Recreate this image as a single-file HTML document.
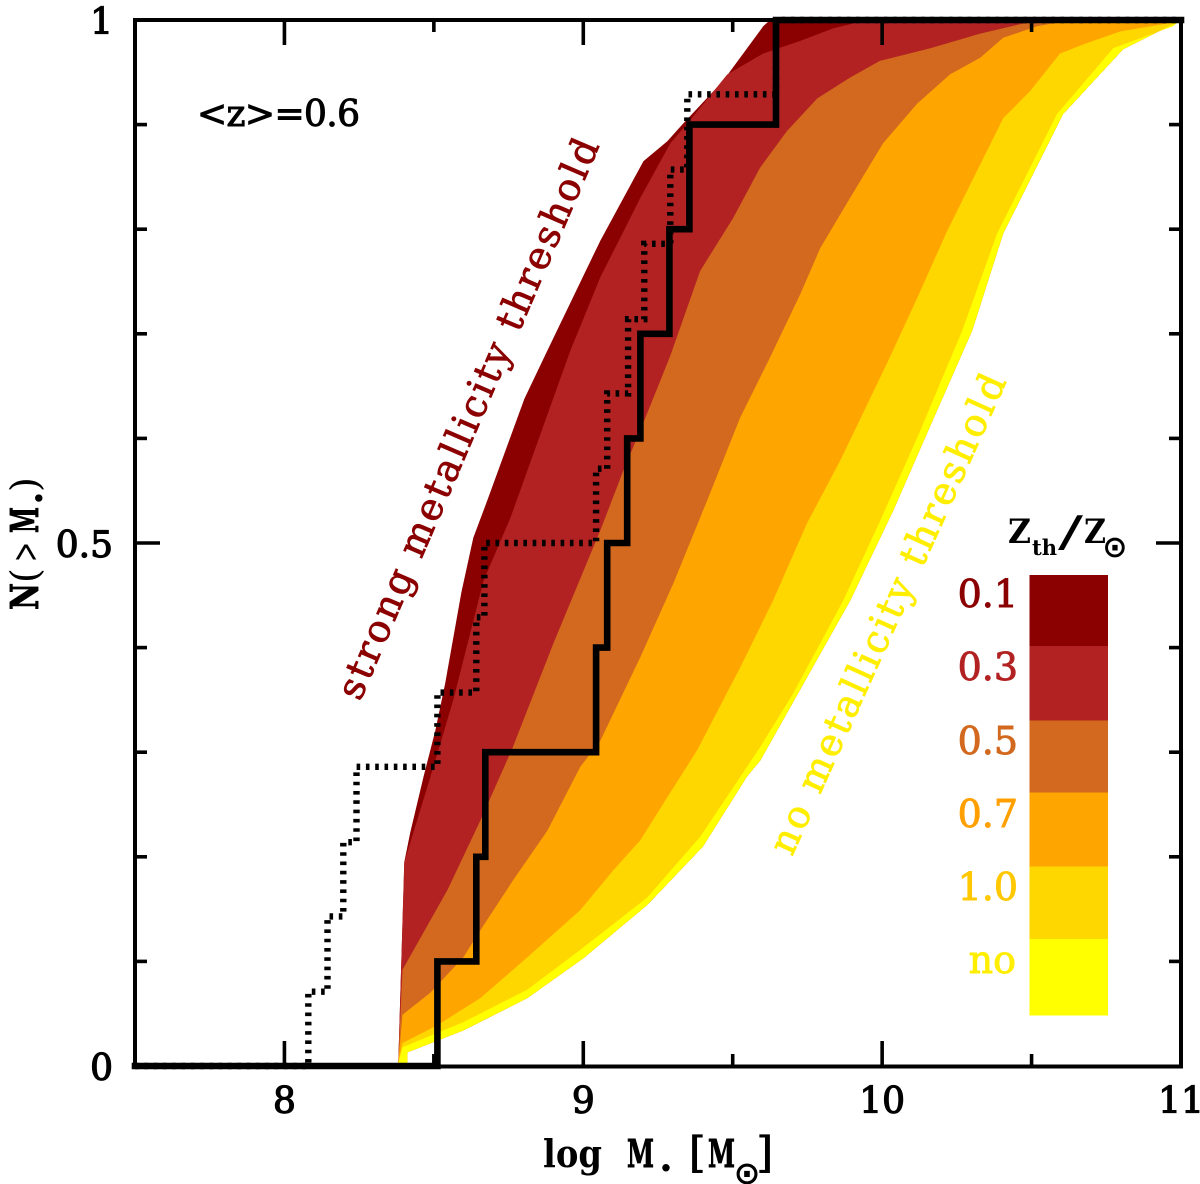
<!DOCTYPE html>
<html lang="en">
<head>
<meta charset="utf-8">
<title>Cumulative stellar mass distribution</title>
<style>
html,body{margin:0;padding:0;background:#fff;}
svg{display:block;}
text{font-family:"DejaVu Serif","Liberation Serif",serif;}
.lbl{font-size:36px;fill:#000;stroke:#000;stroke-width:1.2px;}
.ttl{font-size:38px;font-weight:bold;fill:#000;}
.leg{font-size:38px;stroke-width:0.9px;}
</style>
</head>
<body>
<svg id="chart" xmlns="http://www.w3.org/2000/svg" width="1200" height="1184" viewBox="0 0 1200 1184">
  <g id="bands"></g>
  <g id="axes"></g>
  <g id="steps"></g>
  <g id="ticklabels"></g>

  <g>
    <text class="ttl" x="543" y="1167" textLength="59" lengthAdjust="spacingAndGlyphs">log</text>
    <text class="ttl" x="627" y="1167" textLength="27" lengthAdjust="spacingAndGlyphs" stroke="#000" stroke-width="0.9">M</text>
    <text class="ttl" x="659" y="1171" style="font-size:40px">.</text>
    <text class="ttl" x="689" y="1167" style="font-size:42px;font-weight:normal;stroke:#000;stroke-width:1px">[</text>
    <text class="ttl" x="708" y="1167" textLength="27" lengthAdjust="spacingAndGlyphs" stroke="#000" stroke-width="0.9">M</text>
    <text x="747" y="1184" text-anchor="middle" style="font-family:'DejaVu Sans',sans-serif;font-size:32px;font-weight:bold;fill:#000">⊙</text>
    <text class="ttl" x="773" y="1167" text-anchor="end" style="font-size:42px;font-weight:normal;stroke:#000;stroke-width:1px">]</text>
  </g>

  <g transform="translate(38,610) rotate(-90)">
    <text class="ttl" x="0" y="0" textLength="27" lengthAdjust="spacingAndGlyphs" stroke="#000" stroke-width="0.9">N</text>
    <text class="ttl" x="27" y="0" style="font-weight:normal">(</text>
    <text class="ttl" x="48" y="0" textLength="20" lengthAdjust="spacingAndGlyphs" style="font-weight:normal">&gt;</text>
    <text class="ttl" x="77" y="0" textLength="26" lengthAdjust="spacingAndGlyphs" stroke="#000" stroke-width="0.9">M</text>
    <text class="ttl" x="105" y="4" style="font-size:40px">.</text>
    <text class="ttl" x="118" y="0" style="font-weight:normal">)</text>
  </g>

  <text class="lbl" x="197" y="126" textLength="163" style="stroke-width:1px">&lt;z&gt;=0.6</text>

  <text transform="translate(360,702) rotate(-66.7)" textLength="606" style="font-size:38px;fill:#8b0000;stroke:#8b0000;stroke-width:0.8px">strong metallicity threshold</text>
  <text transform="translate(792,857) rotate(-65.7)" textLength="522" style="font-size:38px;fill:#ffee00;stroke:#ffee00;stroke-width:0.8px">no metallicity threshold</text>

  <g>
    <g>
      <text class="ttl" x="1008" y="543" textLength="23" lengthAdjust="spacingAndGlyphs" style="font-size:34px">Z</text>
      <text class="ttl" x="1032" y="555" textLength="25" lengthAdjust="spacingAndGlyphs" style="font-size:21px">th</text>
      <text class="ttl" x="1058" y="546" textLength="25" lengthAdjust="spacingAndGlyphs" style="font-size:42px;font-weight:normal">/</text>
      <text class="ttl" x="1084" y="543" textLength="22" lengthAdjust="spacingAndGlyphs" style="font-size:34px">Z</text>
      <text x="1115" y="557" text-anchor="middle" style="font-family:'DejaVu Sans',sans-serif;font-size:30px;font-weight:bold;fill:#000">⊙</text>
    </g>
    <rect x="1029.5" y="575" width="78.5" height="72" fill="#8b0000"/>
    <rect x="1029.5" y="646" width="78.5" height="75" fill="#b22222"/>
    <rect x="1029.5" y="720.5" width="78.5" height="73" fill="#d2691e"/>
    <rect x="1029.5" y="792.5" width="78.5" height="75" fill="#ffa500"/>
    <rect x="1029.5" y="866.5" width="78.5" height="73" fill="#ffd700"/>
    <rect x="1029.5" y="939" width="78.5" height="76.5" fill="#ffff00"/>
    <text class="leg" x="1018" y="607" text-anchor="end" fill="#8b0000" stroke="#8b0000">0.1</text>
    <text class="leg" x="1018" y="680" text-anchor="end" fill="#b22222" stroke="#b22222">0.3</text>
    <text class="leg" x="1018" y="754" text-anchor="end" fill="#d2691e" stroke="#d2691e">0.5</text>
    <text class="leg" x="1018" y="827" text-anchor="end" fill="#ffa000" stroke="#ffa000">0.7</text>
    <text class="leg" x="1018" y="900" text-anchor="end" fill="#ffc800" stroke="#ffc800">1.0</text>
    <text class="leg" x="1016" y="973" text-anchor="end" fill="#ffee00" stroke="#ffee00">no</text>
  </g>
</svg>

<script>
// Metallicity-threshold curves: log stellar mass and cumulative fraction N(>M)
const z01LogM = [8.401,8.421,8.465,8.505,8.538,8.592,8.632,8.679,8.803,8.880,9.057,9.201,9.281,9.334,9.468,9.602,9.625];
const z01N    = [0.195,0.223,0.276,0.321,0.366,0.453,0.505,0.541,0.638,0.684,0.789,0.865,0.884,0.901,0.942,0.994,1.000];

const z03LogM = [8.401,8.488,8.565,8.666,8.756,8.957,9.057,9.191,9.291,9.348,9.482,9.602,9.726,9.836,9.950];
const z03N    = [0.195,0.276,0.350,0.464,0.524,0.684,0.754,0.830,0.882,0.901,0.948,0.968,0.980,0.992,1.000];

const z05LogM = [8.395,8.545,8.656,8.763,8.900,9.057,9.134,9.214,9.291,9.391,9.502,9.592,9.682,9.783,9.893,9.993,10.161,10.328,10.462,10.528];
const z05N    = [0.092,0.168,0.235,0.304,0.404,0.512,0.569,0.624,0.679,0.760,0.811,0.859,0.894,0.925,0.945,0.961,0.973,0.987,0.996,1.000];

const z07LogM = [8.395,8.488,8.599,8.656,8.766,8.880,8.990,9.057,9.191,9.301,9.415,9.525,9.619,9.726,9.793,9.893,10.003,10.117,10.227,10.328,10.405,10.518,10.595,10.886];
const z07N    = [0.049,0.070,0.104,0.130,0.178,0.225,0.286,0.311,0.391,0.461,0.541,0.620,0.674,0.738,0.782,0.830,0.882,0.920,0.948,0.964,0.983,0.994,0.998,1.000];

const z10LogM = [8.395,8.512,8.656,8.813,8.990,9.100,9.191,9.268,9.381,9.525,9.635,9.749,9.860,10.020,10.117,10.217,10.405,10.495,10.595,10.686,10.796,10.940,11.000];
const z10N    = [0.022,0.039,0.065,0.104,0.149,0.187,0.216,0.251,0.302,0.381,0.445,0.519,0.579,0.674,0.734,0.798,0.906,0.932,0.968,0.978,0.989,0.996,1.000];

const zNoLogM = [8.395,8.599,8.813,8.990,9.214,9.391,9.548,9.592,9.702,9.870,9.993,10.127,10.268,10.385,10.585,10.773,10.973,11.000];
const zNoN    = [0.018,0.042,0.073,0.111,0.161,0.219,0.286,0.305,0.356,0.445,0.521,0.607,0.703,0.796,0.910,0.973,0.994,1.000];

const edgeLogM = [8.381,8.411,8.411,8.599,8.813,9.000,9.214,9.401,9.548,9.592,9.893,10.037,10.161,10.301,10.405,10.605,10.806,11.000];
const edgeN    = [0.003,0.003,0.013,0.034,0.065,0.103,0.154,0.210,0.277,0.292,0.445,0.531,0.612,0.703,0.796,0.910,0.972,1.000];

// Observed step distributions
const solidEdges = [8.512,8.642,8.672,9.043,9.080,9.147,9.191,9.288,9.355,9.645];
const solidN     = [0.1,0.2,0.3,0.4,0.5,0.6,0.7,0.8,0.9,1.0];
const dottedEdges = [8.080,8.144,8.197,8.241,8.512,8.642,8.669,9.043,9.080,9.150,9.204,9.291,9.348,9.645];
const dottedN     = [0.071,0.143,0.214,0.286,0.357,0.429,0.500,0.571,0.643,0.714,0.786,0.857,0.929,1.0];

// Axis ticks
const xMajorTicks = [8,9,10,11];
const xMinorTicks = [8.5,9.5,10.5];
const xTickLabels = ["8","9","10","11"];
const yMajorTicks = [0,0.5,1];
const yMinorTicks = [0.1,0.2,0.3,0.4,0.6,0.7,0.8,0.9];
const yTickLabels = ["0","0.5","1"];

const SVG_NS = "http://www.w3.org/2000/svg";
const xMin = 7.5, xMax = 11, plotLeft = 135, plotRight = 1181, plotTop = 20, plotBottom = 1066;
function xScale(v){ return plotLeft + (v - xMin) * (plotRight - plotLeft) / (xMax - xMin); }
function yScale(v){ return plotBottom - v * (plotBottom - plotTop); }
function pointList(xs, ys){
  return xs.map(function(x, i){ return xScale(x).toFixed(1) + "," + yScale(ys[i]).toFixed(1); });
}

// Bands are painted outermost first, each running from its left curve to the outer edge.
const bandsGroup = document.getElementById("bands");
const bandList = [
  ["0.1", "#8b0000", z01LogM, z01N],
  ["0.3", "#b22222", z03LogM, z03N],
  ["0.5", "#d2691e", z05LogM, z05N],
  ["0.7", "#ffa500", z07LogM, z07N],
  ["1.0", "#ffd700", z10LogM, z10N],
  ["no",  "#ffff00", zNoLogM, zNoN]
];
const edgePoints = pointList(edgeLogM, edgeN).reverse();
bandList.forEach(function(b){
  const poly = document.createElementNS(SVG_NS, "polygon");
  poly.setAttribute("points", pointList(b[2], b[3]).concat(edgePoints).join(" "));
  poly.setAttribute("fill", b[1]);
  
  
  bandsGroup.appendChild(poly);
});

// Frame and ticks
const axesGroup = document.getElementById("axes");
const frame = document.createElementNS(SVG_NS, "rect");
frame.setAttribute("x", plotLeft);
frame.setAttribute("y", plotTop);
frame.setAttribute("width", plotRight - plotLeft);
frame.setAttribute("height", plotBottom - plotTop + 0.5);
frame.setAttribute("fill", "none");
frame.setAttribute("stroke", "#000");
frame.setAttribute("stroke-width", "4");


axesGroup.appendChild(frame);

function addTick(x1, y1, x2, y2, name){
  const t = document.createElementNS(SVG_NS, "line");
  t.setAttribute("x1", x1);
  t.setAttribute("y1", y1);
  t.setAttribute("x2", x2);
  t.setAttribute("y2", y2);
  t.setAttribute("stroke", "#000");
  t.setAttribute("stroke-width", "3.6");
  
  
  axesGroup.appendChild(t);
}
function addXTicks(values, len, kind){
  values.forEach(function(v){
    const x = xScale(v);
    if (v < xMax) {
      addTick(x, plotBottom, x, plotBottom - len, 'x-' + kind + '-tick');
      addTick(x, plotTop, x, plotTop + len, 'x-' + kind + '-tick-top');
    }
  });
}
function addYTicks(values, len, kind){
  values.forEach(function(v){
    const y = yScale(v);
    if (v > 0 && v < 1) {
      addTick(plotLeft, y, plotLeft + len, y, 'y-' + kind + '-tick');
      addTick(plotRight, y, plotRight - len, y, 'y-' + kind + '-tick-right');
    }
  });
}
addXTicks(xMajorTicks, 25, "major");
addXTicks(xMinorTicks, 12, "minor");
addYTicks(yMajorTicks, 25, "major");
addYTicks(yMinorTicks, 12, "minor");

// Step lines
function stepPath(edges, levels){
  let d = "M" + xScale(xMin) + " " + yScale(0);
  let prev = 0;
  edges.forEach(function(e, i){
    d += "L" + xScale(e).toFixed(1) + " " + yScale(prev).toFixed(1);
    d += "L" + xScale(e).toFixed(1) + " " + yScale(levels[i]).toFixed(1);
    prev = levels[i];
  });
  d += "L" + xScale(xMax) + " " + yScale(prev).toFixed(1);
  return d;
}
const stepsGroup = document.getElementById("steps");
const dottedLine = document.createElementNS(SVG_NS, "path");
dottedLine.setAttribute("d", stepPath(dottedEdges, dottedN));
dottedLine.setAttribute("fill", "none");
dottedLine.setAttribute("stroke", "#000");
dottedLine.setAttribute("stroke-width", "6.4");
dottedLine.setAttribute("stroke-dasharray", "3.6 5.7");


stepsGroup.appendChild(dottedLine);

const solidLine = document.createElementNS(SVG_NS, "path");
solidLine.setAttribute("d", stepPath(solidEdges, solidN));
solidLine.setAttribute("fill", "none");
solidLine.setAttribute("stroke", "#000");
solidLine.setAttribute("stroke-width", "6.6");
solidLine.setAttribute("stroke-linejoin", "miter");
solidLine.setAttribute("stroke-linecap", "square");


stepsGroup.appendChild(solidLine);

// Tick labels
const labelGroup = document.getElementById("ticklabels");
xMajorTicks.forEach(function(v, i){
  const t = document.createElementNS(SVG_NS, "text");
  t.setAttribute("class", "lbl");
  t.setAttribute("x", xScale(v));
  t.setAttribute("y", 1113);
  t.setAttribute("text-anchor", "middle");
  
  
  t.textContent = xTickLabels[i];
  labelGroup.appendChild(t);
});
yMajorTicks.forEach(function(v, i){
  const t = document.createElementNS(SVG_NS, "text");
  t.setAttribute("class", "lbl");
  t.setAttribute("x", 113);
  t.setAttribute("y", yScale(v) + 14);
  t.setAttribute("text-anchor", "end");
  
  
  t.textContent = yTickLabels[i];
  labelGroup.appendChild(t);
});
</script>
</body>
</html>
